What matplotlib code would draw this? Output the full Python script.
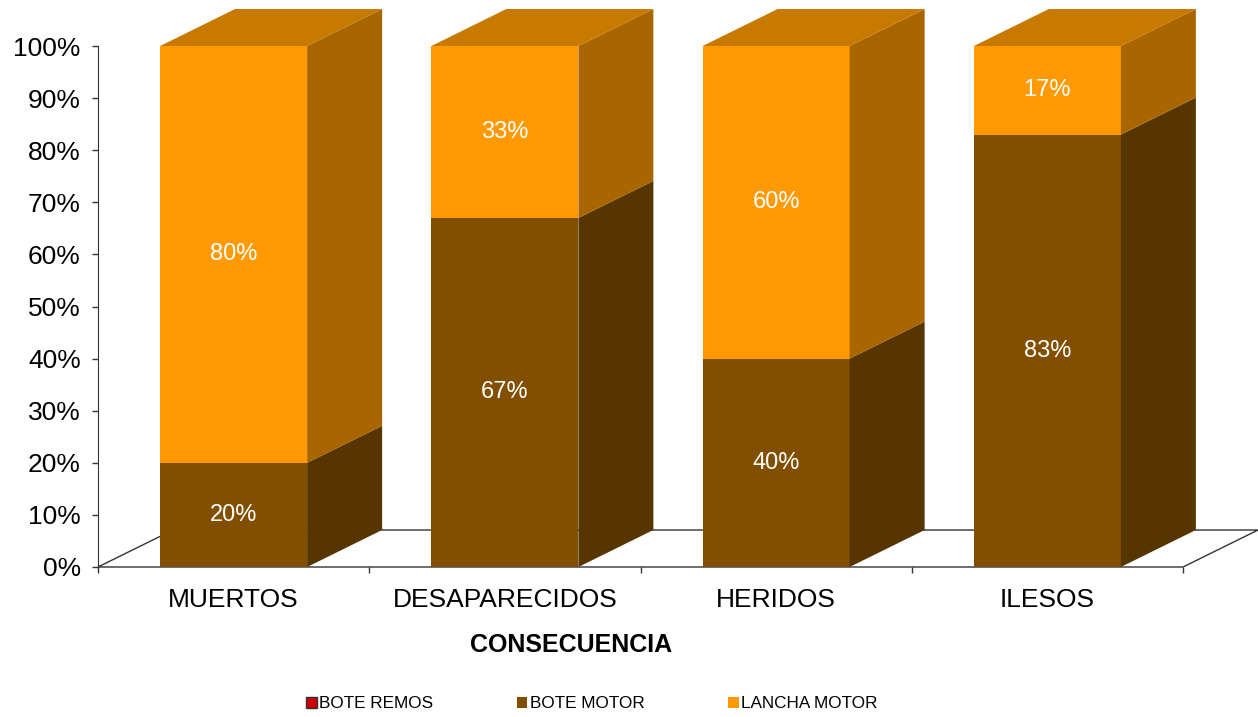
import matplotlib
matplotlib.use("Agg")
import matplotlib.pyplot as plt
from matplotlib.patches import Polygon, Patch

plt.rcParams['font.family'] = ['Liberation Sans', 'DejaVu Sans']

categories = ["MUERTOS", "DESAPARECIDOS", "HERIDOS", "ILESOS"]
series_names = ["BOTE REMOS", "BOTE MOTOR", "LANCHA MOTOR"]
bote_remos = [0, 0, 0, 0]
bote_motor = [20, 67, 40, 83]
lancha_motor = [80, 33, 60, 17]

# front, side, top colours for each series
face_colors = {
    "BOTE REMOS": ("#CC0000", "#880000", "#AA0000"),
    "BOTE MOTOR": ("#824F00", "#573500", "#6C4200"),
    "LANCHA MOTOR": ("#FF9A05", "#A96600", "#C87A00"),
}

W, H = 1258, 717
fig = plt.figure(figsize=(W / 100, H / 100), dpi=100)
ax = fig.add_axes([98 / W, (H - 567) / H, 1085 / W, 521 / H])
ax.set_xlim(-0.5, len(categories) - 0.5)
ax.set_ylim(0, 100)

# pseudo-3D depth in data units
dx = 75 / 271.25
dy = 37 / 5.21
bar_w = 147 / 271.25

# floor
x_lo, x_hi = -0.5, len(categories) - 0.5
floor = Polygon([(x_lo, 0), (x_hi, 0), (x_hi + dx, dy), (x_lo + dx, dy)],
                closed=True, facecolor="white", edgecolor="#333333",
                linewidth=1.0, clip_on=False, zorder=1)
ax.add_patch(floor)

series = [("BOTE REMOS", bote_remos), ("BOTE MOTOR", bote_motor),
          ("LANCHA MOTOR", lancha_motor)]

for i in range(len(categories)):
    x0 = i - bar_w / 2
    x1 = i + bar_w / 2
    bottom = 0
    segs = [(name, vals[i]) for name, vals in series if vals[i] > 0]
    for k, (name, v) in enumerate(segs):
        front, side, top = face_colors[name]
        y0, y1 = bottom, bottom + v
        ax.add_patch(Polygon([(x0, y0), (x1, y0), (x1, y1), (x0, y1)],
                             closed=True, facecolor=front, edgecolor="none",
                             clip_on=False, zorder=3))
        ax.add_patch(Polygon([(x1, y0), (x1 + dx, y0 + dy), (x1 + dx, y1 + dy), (x1, y1)],
                             closed=True, facecolor=side, edgecolor="none",
                             clip_on=False, zorder=3))
        if k == len(segs) - 1:
            ax.add_patch(Polygon([(x0, y1), (x1, y1), (x1 + dx, y1 + dy), (x0 + dx, y1 + dy)],
                                 closed=True, facecolor=top, edgecolor="none",
                                 clip_on=False, zorder=3))
        ax.text(i, (y0 + y1) / 2, f"{v}%", color="white", fontsize=17,
                ha="center", va="center", zorder=4)
        bottom = y1

# axes styling
for s in ["top", "right", "bottom"]:
    ax.spines[s].set_visible(False)
ax.spines["left"].set_color("#333333")
ax.spines["left"].set_zorder(2)

ax.set_yticks(range(0, 101, 10))
ax.set_yticklabels([f"{t}%" for t in range(0, 101, 10)])
ax.tick_params(axis="y", labelsize=19, length=4.5, width=1, color="#333333", pad=8)

ax.set_xticks([x_lo + j for j in range(len(categories) + 1)])
ax.set_xticklabels([])
ax.set_xticks(range(len(categories)), minor=True)
ax.set_xticklabels(categories, minor=True)
ax.tick_params(axis="x", which="major", length=4, width=1, color="#333333")
ax.tick_params(axis="x", which="minor", length=0, labelsize=19, pad=15)

ax.set_xlabel("CONSECUENCIA", fontsize=18, fontweight="bold", labelpad=15)
ax.xaxis.label.set_x(0.436)

handles = [Patch(facecolor=face_colors[n][0],
                 edgecolor="#333333" if n == "BOTE REMOS" else face_colors[n][0],
                 linewidth=1.0 if n == "BOTE REMOS" else 0)
           for n in series_names]
fig.legend(handles, series_names, loc="center", bbox_to_anchor=(592 / W, 1 - 704 / H),
           ncol=3, frameon=False, fontsize=12.3, handlelength=0.6, handleheight=0.6,
           handletextpad=0.15, columnspacing=4.9)

fig.savefig("out.png", dpi=100)
